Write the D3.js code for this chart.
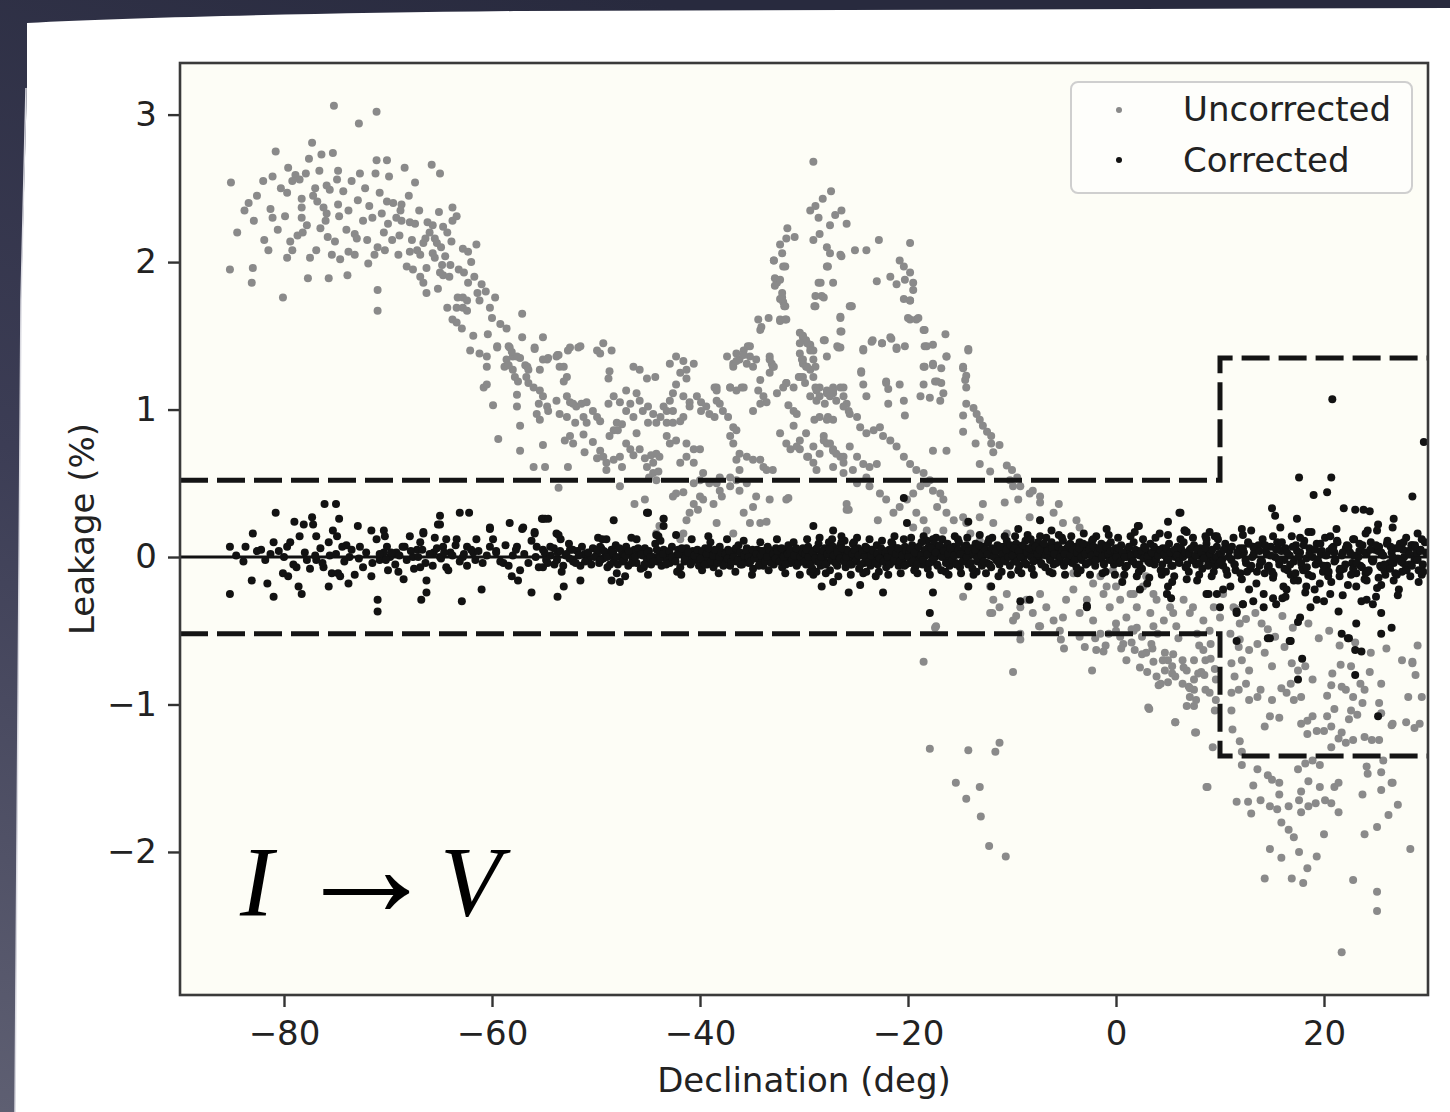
<!DOCTYPE html>
<html>
<head>
<meta charset="utf-8">
<script src="https://cdn.jsdelivr.net/npm/d3@7"></script>
<style>
html, body { margin: 0; padding: 0; background: #2c2d42; overflow: hidden; }
svg { display: block; }
</style>
</head>
<body>
<svg id="chart" width="1450" height="1112"></svg>
<script>
// axis setup
const xTicks = [-80, -60, -40, -20, 0, 20];
const yTicks = [-2, -1, 0, 1, 2, 3];
const xLimits = [-90, 30];
const yLimits = [-2.97, 3.35];
const xLabel = "Declination (deg)";
const yLabel = "Leakage (%)";
const seriesNames = ["Uncorrected", "Corrected"];

// leakage limit steps (dashed)
const upperLimit = [[-90, 0.52], [10, 1.35], [30, 1.35]];
const lowerLimit = [[-90, -0.52], [10, -1.35], [30, -1.35]];

// [declination, leakage %] before correction
const uncorrected = [
[-75.2,3.06],[-71.1,3.02],[-72.8,2.94],[-77.3,2.81],[-80.8,2.75],[-76.4,2.73],[-75.3,2.74],[-71.1,2.69],[-70.1,2.69],[-68.4,2.64],
[-65.8,2.66],[-65,2.6],[-67.4,2.54],[-85.1,2.54],[-81.1,2.58],[-79.6,2.64],[-78.9,2.59],[-78.5,2.56],[-77.9,2.6],[-74.8,2.62],
[-74.9,2.56],[-72.7,2.6],[-71.2,2.6],[-69.9,2.58],[-75.9,2.52],[-75.6,2.49],[-82.6,2.45],[-79.7,2.47],[-77.2,2.45],[-76.8,2.41],
[-76.2,2.37],[-75.9,2.33],[-78.3,2.43],[-78.3,2.37],[-78.3,2.3],[-74.8,2.39],[-74.7,2.31],[-70.8,2.47],[-70.1,2.41],[-69.5,2.4],
[-68.7,2.39],[-68.8,2.35],[-83.8,2.35],[-81.3,2.36],[-81.1,2.3],[-72.4,2.28],[-71.5,2.3],[-70,2.26],[-68.7,2.28],[-67.9,2.27],
[-67.4,2.26],[-66.2,2.27],[-65.7,2.25],[-64.7,2.24],[-64.3,2.2],[-63.8,2.28],[-63.4,2.31],[-63.8,2.37],[-65.1,2.34],[-76.5,2.23],
[-75.8,2.17],[-75.1,2.14],[-78.7,2.18],[-78.2,2.2],[-79.4,2.14],[-79.2,2.08],[-81.5,2.08],[-79.7,2.03],[-77.5,2.03],[-76.9,2.08],
[-75.4,2.05],[-73.8,2.07],[-73.2,2.05],[-73.2,2.19],[-73,2.16],[-71.9,1.99],[-71.3,2.05],[-71,2.1],[-70.3,2.08],[-69.6,2.15],
[-68.9,2.18],[-85.2,1.95],[-83,1.96],[-83.1,1.86],[-80.1,1.76],[-77.7,1.89],[-75.7,1.89],[-73.9,1.91],[-71,1.81],[-71,1.67],
[-67.9,2.07],[-67.2,2.08],[-66.4,2.16],[-66.6,2.13],[-65.5,2.16],[-65.3,2.13],[-65.7,2.06],[-65.5,2.03],[-64.8,1.98],[-64,1.98],
[-68.2,1.97],[-67.6,1.95],[-66.3,1.96],[-66.9,1.9],[-66.6,1.86],[-66.3,1.79],[-65,1.93],[-64.7,1.91],[-64.1,1.9],[-62.8,2.09],
[-62.3,2.07],[-61.5,2.12],[-62.7,1.93],[-62.3,1.86],[-65.2,1.82],[-63.3,1.76],[-62.8,1.76],[-62.4,1.74],[-61.4,1.79],[-61.2,1.74],
[-62.8,1.69],[-62.4,1.67],[-63.4,1.69],[-59.7,1.76],[-60.2,1.69],[-64.3,1.69],[-63.8,1.61],[-63.4,1.59],[-62.9,1.55],[-61.8,1.5],
[-60.4,1.51],[-57.1,1.65],[-57.1,1.49],[-55.1,1.49],[-62.1,1.4],[-61.2,1.38],[-60.5,1.36],[-59.5,1.42],[-58.3,1.42],[-58,1.36],
[-57.3,1.35],[-55.9,1.42],[-54.7,1.34],[-53.7,1.37],[-52.5,1.42],[-51.7,1.42],[-60.5,1.29],[-58.8,1.29],[-58,1.27],[-56.6,1.29],
[-55.4,1.27],[-53.5,1.29],[-84.5,2.2],[-82.9,2.28],[-82,2.55],[-80.3,2.5],[-79.9,2.31],[-79.2,2.55],[-77.6,2.7],[-77,2.5],
[-76.6,2.62],[-76,2.28],[-74.3,2.48],[-73.8,2.35],[-73.5,2.55],[-72.9,2.42],[-72.2,2.5],[-72,2.15],[-71.8,2.38],[-70.6,2.33],
[-70.4,2.2],[-69.2,2.3],[-69,2.05],[-68,2.45],[-67.7,2.15],[-67,2.35],[-66.9,2.05],[-66,2.2],[-64.9,2.1],[-64.5,2.04],
[-63.9,2.14],[-63.2,1.95],[-62,2.0],[-61.7,1.9],[-61,1.85],[-60.6,1.8],[-60,1.62],[-59.2,1.58],[-58.6,1.55],[-80.6,2.22],
[-81.9,2.15],[-83.4,2.4],[-74,2.22],[-74.6,2.02],[-77.8,2.25],
[-59.5,1.43],[-58.4,1.43],[-58.1,1.39],[-57.6,1.36],[-58.6,1.34],[-58.4,1.3],[-57.8,1.22],[-57.5,1.19],[-55.9,1.41],[-56.8,1.3],
[-56.5,1.27],[-56.7,1.22],[-56.5,1.18],[-60.8,1.15],[-60.5,1.17],[-59.9,1.03],[-57.6,1.1],[-57.6,1.02],[-57.3,0.89],[-59.4,0.8],
[-57.3,0.72],[-56,1.15],[-55.4,1.13],[-55.1,1.09],[-55.5,1.04],[-54.7,1.02],[-54.6,0.99],[-55.7,0.97],[-55.4,0.93],[-55.1,0.76],
[-56,0.61],[-54.9,0.61],[-55.1,1.34],[-54.6,1.35],[-53.8,1.36],[-53.6,1.37],[-52.7,1.4],[-51.5,1.43],[-53.1,1.29],[-52.8,1.22],
[-53.1,1.19],[-53.8,1.06],[-52.8,1.09],[-52.5,1.05],[-52.2,1.04],[-51.9,1.02],[-51.4,1.04],[-50.9,1.05],[-53.5,0.97],[-52.8,0.95],
[-52,0.91],[-51.2,0.95],[-50.9,0.91],[-53,0.79],[-52.5,0.82],[-52.2,0.77],[-51.2,0.83],[-51.1,0.71],[-52.7,0.61],[-49.9,1.4],
[-49.3,1.45],[-49.6,1.38],[-48.5,1.4],[-48.7,1.26],[-48.8,1.21],[-50.3,0.99],[-49.9,0.95],[-49.6,0.92],[-48.8,1.04],[-48.3,1.09],
[-47.7,1.05],[-48,0.91],[-48.3,0.86],[-47.9,0.86],[-47.5,0.9],[-48.7,0.82],[-50.3,0.78],[-49.6,0.72],[-49.3,0.68],[-49.9,0.67],
[-49,0.64],[-48.3,0.66],[-49,0.59],[-47.7,0.68],[-47.5,0.61],[-47.1,1.13],[-46.4,1.29],[-45.8,1.27],[-45.1,1.21],[-44.3,1.22],
[-46.1,1.11],[-45.8,1.06],[-45.5,0.99],[-45,1.02],[-44.5,0.97],[-44.2,0.91],[-45,0.91],[-46.7,1.04],[-47.1,0.99],[-46.4,0.95],
[-46.1,0.84],[-47.1,0.77],[-46.7,0.73],[-46.4,0.69],[-45.8,0.73],[-45.3,0.67],[-44.7,0.69],[-44.2,0.7],[-43.9,0.68],[-44.5,0.64],
[-45.1,0.61],[-44.5,0.57],[-44,0.58],[-44.9,0.54],[-44.2,0.52],[-46.3,0.36],[-45.3,0.39],[-45,0.3],[-43.5,0.26],[-44.2,0.16],
[-43.9,0.21],[-42.6,0.41],[-42.3,0.43],[-41.6,0.44],[-42.9,1.31],[-42.3,1.36],[-41.6,1.33],[-41.3,1.27],[-40.6,1.31],[-41.9,1.25],
[-41.3,1.21],[-42.3,1.17],[-42.6,1.11],[-42.9,1.06],[-41.6,1.09],[-41,1.05],[-43.5,1.02],[-43.2,0.99],[-42.6,0.99],[-43.8,0.95],
[-43.2,0.91],[-42.6,0.91],[-41.9,0.92],[-41.6,0.95],[-43.2,0.82],[-42.9,0.77],[-42.3,0.79],[-41.3,0.77],[-40.6,0.73],[-41.3,0.68],
[-41.9,0.64],[-40.6,0.64],[-40,0.73],[-41,1.02],[-40.3,1.09],[-39.9,1.05],[-39.4,1.02],[-39.9,0.99],[-39.1,0.97],[-38.6,0.95],
[-38.1,1.04],[-38.4,1.13],[-38.6,1.15],[-40.6,0.5],[-40,0.52],[-39.7,0.57],[-39.1,0.5],[-38.4,0.5],[-38.1,0.45],[-37.1,0.48],
[-36.5,0.52],[-36.2,0.45],[-35.5,0.5],[-38.1,0.54],[-37.1,0.54],[-40.6,0.36],[-41,0.3],[-41.3,0.25],[-41.6,0.16],[-41.9,0.12],
[-40,0.41],[-39.7,0.39],[-40.2,0.32],[-38.7,0.36],[-37.9,0.41],[-38.4,0.23],[-36.8,0.16],[-35.8,0.3],[-34.9,0.34],[-34.6,0.41],
[-33.3,0.39],[-31.5,0.4],[-34.2,0.23],[-33.6,0.24],[-33,0.59],[-36.2,0.59],[-37.4,1.36],[-36.8,1.31],[-36.5,1.38],[-35.8,1.4],
[-35.4,1.43],[-35.2,1.36],[-36.2,1.34],[-35.5,1.31],[-34.9,1.29],[-34.6,1.34],[-37.1,1.15],[-36.5,1.13],[-36,1.15],[-34.2,1.2],
[-34.4,1.13],[-33.9,1.09],[-33.6,1.05],[-34.2,1.04],[-34.9,0.99],[-38.4,1.06],[-37.8,0.99],[-37.3,0.95],[-36.8,0.88],[-36.5,0.86],
[-37.1,0.82],[-36.8,0.77],[-36.2,0.7],[-36.5,0.66],[-35.5,0.68],[-34.9,0.66],[-34.2,0.66],[-33.9,0.61],[-33.6,0.59],[-34.4,1.61],
[-34.1,1.56],[-34.2,1.54],[-32.3,1.61],[-31.8,1.61],[-32.6,1.86],[-32.8,1.89],[-32.1,1.76],[-32,1.73],[-31.8,1.7],[-32.9,2.01],
[-32,1.97],[-32.1,2.06],[-33.3,1.36],[-33.1,1.31],[-33,1.29],[-33.3,1.25],[-32.6,1.11],[-32,1.15],[-31.7,1.18],[-30.4,1.52],
[-30.1,1.49],[-29.8,1.47],[-29.4,1.44],[-29.1,1.4],[-30.4,1.38],[-30.2,1.34],[-30.1,1.31],[-29.8,1.29],[-29.4,1.27],[-29.1,1.22],
[-30.5,1.22],[-31.5,1.03],[-31,0.99],[-30.7,0.97],[-32.3,0.84],[-31.7,0.77],[-31.3,0.73],[-30.7,0.75],[-30.4,0.79],[-29.8,0.84],
[-29,0.93],[-31,0.89],[-30.4,0.73],[-29.6,0.68],[-29.1,0.64],[-28.8,0.59],[-28.6,1.86],[-28.3,1.77],[-28.9,1.7],[-27.8,1.97],
[-27.2,1.86],[-26.5,1.63],[-26.4,1.53],[-28,1.47],[-27.8,1.36],[-26.8,1.43],[-27.5,2.06],[-26.4,2.04],[-28.5,1.15],[-27.8,1.13],
[-27.2,1.11],[-26.5,1.15],[-26.2,1.09],[-28.8,1.06],[-28,1.04],[-27.7,0.95],[-27.2,0.93],[-25.9,1.04],[-25.7,0.99],[-28.1,0.82],
[-27.8,0.77],[-27.2,0.73],[-26.5,0.68],[-26.2,0.64],[-27.2,0.61],[-25.9,0.36],[-31.7,0.39],[-25.9,0.32],[-53.6,0.47],[-47.7,0.48],
[-35.2,0.23],
[-29.1,2.68],[-27.4,2.48],[-28.2,2.43],[-28.9,2.38],[-29.4,2.35],[-28.6,2.3],[-27,2.32],[-26.4,2.35],[-25.9,2.26],[-27.5,2.25],
[-28.5,2.19],[-29.1,2.15],[-27.8,2.1],[-31.6,2.23],[-32.3,2.12],[-31.7,2.16],[-30.9,2.17],[-32.9,2.01],[-31.8,1.97],[-32.3,1.88],
[-32.8,1.84],[-32.1,1.79],[-32.3,1.75],[-31.9,1.7],[-33.4,1.62],[-32.3,1.6],[-31.7,1.61],[-27.7,1.97],[-26.5,2.05],[-28.4,1.86],
[-28.9,1.77],[-28.1,1.76],[-25.5,1.7],[-26.5,1.62],[-26.7,1.42],[-25.1,2.08],[-24,2.08],[-22.8,2.15],[-19.8,2.13],[-20.8,2.01],
[-20.4,1.97],[-19.8,1.93],[-23,1.87],[-21.7,1.9],[-21.1,1.85],[-20.3,1.88],[-19.5,1.86],[-19.5,1.81],[-20.4,1.75],[-19.8,1.74],
[-19.8,1.61],[-19.2,1.61],[-18.4,1.54],[-16.4,1.51],[-14.2,1.41],[-18.4,1.43],[-17.6,1.44],[-21.6,1.48],[-20.3,1.43],[-21.1,1.42],
[-22.5,1.45],[-23.4,1.47],[-24.3,1.41],[-25.4,1.7],[-30.1,1.5],[-30.4,1.45],[-29.4,1.43],[-28.1,1.47],[-26.5,1.42],[-24.5,1.25],
[-24.3,1.17],[-22.1,1.18],[-20.8,1.17],[-18.4,1.29],[-17.6,1.31],[-17.4,1.19],[-16.8,1.18],[-18.5,1.17],[-14.7,1.29],[-14.4,1.23],
[-14.4,1.15],[-16.3,1.36],[-35.8,1.37],[-35.2,1.43],[-36.8,1.29],[-36.5,1.33],[-38.4,1.15],[-37.1,1.15],[-35.8,1.15],[-33.3,1.34],
[-32.9,1.29],[-30.1,1.22],[-28.9,1.29],[-28.9,1.15],[-27.2,1.15],[-26.2,1.15],[-31.7,1.18],[-31,1.15],
[-29.7,1.45],[-29.4,1.4],[-29.1,1.34],[-30.1,1.34],[-29.7,1.29],[-30.4,1.22],[-29.9,1.18],[-28.8,1.13],[-29.4,1.09],[-28.5,1.09],
[-27.8,1.11],[-27.2,1.13],[-27.5,1.09],[-26.9,1.06],[-26.2,1.02],[-25.6,0.97],[-24.9,0.95],[-24.6,0.88],[-24,0.84],[-23.3,0.86],
[-22.7,0.88],[-22.4,0.82],[-21.7,0.79],[-21.1,0.75],[-20.4,0.68],[-19.8,0.63],[-19.2,0.59],[-18.5,0.57],[-17.9,0.52],[-28.5,0.95],
[-27.8,0.93],[-28.1,0.79],[-27.5,0.77],[-27.2,0.72],[-26.9,0.7],[-28.5,0.7],[-29.1,0.75],[-29.7,0.68],[-26.2,0.68],[-25.6,0.75],
[-24.9,0.68],[-24.3,0.63],[-23.7,0.61],[-23,0.63],[-26.2,0.57],[-25.3,0.59],[-24,0.54],[-24.9,0.5],[-23.7,0.48],[-22.7,0.43],
[-22.1,0.39],[-25.7,0.32],[-22.9,0.25],[-21.4,0.3],[-20.8,0.34],[-20.1,0.39],[-19.5,0.43],[-18.8,0.48],[-18.2,0.5],[-17.6,0.45],
[-16.9,0.43],[-16.6,0.39],[-17.2,0.34],[-16.3,0.3],[-19.2,0.3],[-18.5,0.25],[-19.5,0.2],[-18.2,0.18],[-16.6,0.18],[-15.6,0.25],
[-14.7,0.27],[-14.4,0.23],[-13.1,0.27],[-14,0.16],[-13.1,0.11],[-26.5,1.53],[-25.6,1.7],[-24.3,1.4],[-24.5,1.26],[-24,1.09],
[-23.5,1.46],[-22.5,1.45],[-21.7,1.49],[-21.1,1.41],[-22.1,1.19],[-21.9,1.14],[-21.9,1.04],[-20.4,1.06],[-20.3,0.96],[-20,1.62],
[-19,1.62],[-19.8,1.74],[-18.5,1.54],[-18.2,1.43],[-18.5,1.29],[-17.6,1.3],[-16.8,1.28],[-17.2,1.19],[-18.8,1.09],[-17.9,1.08],
[-16.9,1.06],[-16.6,1.11],[-16.3,1.36],[-17.6,0.72],[-16.3,0.72],[-14.2,1.4],[-14.7,1.28],[-14.5,1.2],[-14.4,1.04],[-14.7,0.96],
[-13.7,1.01],[-13.4,0.97],[-13.1,0.93],[-12.8,0.89],[-14.7,0.85],[-13.5,0.77],[-12.4,0.85],[-12,0.82],[-11.2,0.76],[-12,0.77],
[-11.8,0.71],[-13.1,0.63],[-12.1,0.58],[-10.5,0.62],[-10,0.59],[-9.5,0.54],[-10.2,0.52],[-9.9,0.48],[-9.2,0.48],[-8,0.45],
[-7.3,0.41],[-10.7,0.37],[-9.4,0.39],[-8.3,0.43],[-7.3,0.37],[-8.3,0.27],[-7.3,0.25],[-6,0.3],[-5.5,0.36],[-5.1,0.23],
[-3.8,0.25],[-3.5,0.2],[-12.8,0.36],[-11.8,0.23],[-10.5,0.16],[-29,1.7],
[-14.7,-0.27],[-12.1,-0.2],[-11.8,-0.29],[-12.1,-0.38],[-11.2,-0.34],[-10.5,-0.25],[-9.9,-0.43],[-9.2,-0.34],[-8.6,-0.29],[-8,-0.38],
[-7.3,-0.25],[-6.7,-0.34],[-6,-0.43],[-5.1,-0.41],[-4.8,-0.29],[-4.1,-0.22],[-3.5,-0.38],[-2.8,-0.29],[-2.2,-0.43],[-1.5,-0.13],
[-1.2,-0.25],[-0.6,-0.34],[0,-0.2],[0.4,-0.29],[1,-0.41],[1.7,-0.25],[2,-0.34],[2.6,-0.2],[3.3,-0.38],[3.9,-0.29],
[4.6,-0.43],[5.2,-0.34],[5.8,-0.47],[6.5,-0.29],[7.1,-0.38],[7.8,-0.52],[8.4,-0.43],[9,-0.5],[10,-0.41],[11,-0.52],
[11.9,-0.45],[-0.3,-0.09],[0.7,-0.13],[2.9,-0.13],[-4.1,-0.11],[-2.2,-0.18],[-0.9,-0.2],[1.4,-0.25],[3.6,-0.25],[4.9,-0.25],
[5.5,-0.38],[7.4,-0.34],[3.6,-0.47],[1.7,-0.5],[0,-0.5],[-1.5,-0.52],[-3.5,-0.54],[-5.4,-0.5],[-7.3,-0.47],[-9.2,-0.52],
[9.4,-0.34],[10.3,-0.25],[11.3,-0.34],[11.9,-0.56],[-17.4,-0.48],
[-18.5,-0.71],[-17.3,-0.47],[-9.9,-0.78],[-2.3,-0.77],[-5,-0.62],[-3,-0.61],[-1.9,-0.63],[-1.2,-0.64],[-9.2,-0.56],[-5.3,-0.56],
[-7.4,-0.47],[-11.9,-0.38],[-9.6,-0.4],[-17.9,-1.3],[-14.2,-1.31],[-11.6,-1.32],[-11.2,-1.26],[-15.4,-1.53],[-13.1,-1.56],[-14.4,-1.64],
[-13,-1.76],[-12.2,-1.96],[-10.6,-2.03],[2.3,-0.75],[3.2,-1.03],[5.7,-1.12],[4.1,-0.87],[5.4,-0.74],[5.7,-0.81],[4.7,-0.65],
[3.6,-0.71],[6.4,-0.7],[6.8,-0.77],[7.5,-0.83],[7.1,-0.89],[7.7,-0.97],[7.5,-1.01],[8.6,-0.9],[7.7,-1.19],[9.3,-1.29],
[8.8,-1.56],[9.5,-1.04],[9.6,-0.97],[8.2,-0.78],[9.1,-0.69],[9.6,-0.83],[11.1,-1.04],[11.2,-1.17],[11.9,-1.25],[12.1,-1.32],
[12.1,-1.41],[11.6,-1.66],[12.7,-1.66],[13,-1.74],[13.2,-1.55],[13.6,-1.44],[13.9,-1.65],[14.3,-1.15],[14.8,-1.08],[15.7,-1.09],
[15,-0.97],[13.6,-0.95],[12.8,-0.97],[11.8,-0.9],[11.1,-0.92],[12.5,-0.86],[13.9,-0.9],[11.4,-0.81],[12.1,-0.7],[12.8,-0.63],
[11.8,-0.61],[13.6,-0.59],[14.3,-0.65],[15,-0.74],[14.6,-0.49],[15.3,-0.54],[16.2,-0.61],[16.9,-0.72],[17.5,-0.77],[18.2,-0.74],
[18.9,-0.83],[16.8,-0.86],[16.4,-0.92],[17.1,-0.97],[17.8,-0.95],[15.9,-0.89],[14.6,-1.48],[15,-1.51],[15.7,-1.53],[15.7,-1.61],
[14.8,-1.69],[15.5,-1.71],[15.9,-1.8],[16.6,-1.85],[17.1,-1.9],[16.6,-1.69],[17.6,-1.65],[17.8,-1.73],[18.5,-1.69],[19.2,-1.67],
[20.1,-1.65],[20.7,-1.67],[21.4,-1.73],[21,-1.56],[21.4,-1.53],[19.6,-1.56],[18.5,-1.52],[17.8,-1.59],[17.5,-1.44],[18.2,-1.4],
[18.9,-1.38],[19.6,-1.41],[17.6,-2.0],[18.4,-2.11],[16.9,-2.18],[18,-2.21],[15.9,-2.04],[14.8,-1.98],[14.3,-2.18],[19.3,-2.03],
[20,-1.88],[21.7,-2.68],[22.8,-2.19],[25.1,-2.27],[25.1,-2.4],[23.9,-1.88],[25.1,-1.83],[26.2,-1.75],[27.1,-1.68],[23.7,-1.61],
[26.5,-1.53],[25.5,-1.58],[28.3,-1.98],[28.5,-0.72],[28.1,-0.95],[29.4,-0.95],[27.9,-1.12],[28.7,-1.16],[26.5,-1.14],[25.3,-1.24],
[24.6,-1.24],[23.9,-1.22],[22.8,-1.24],[22.1,-1.26],[21.4,-1.23],[20.7,-1.29],[20,-1.18],[20.7,-1.15],[21.7,-1.19],[22.4,-1.1],
[22.6,-1.04],[23.2,-1.07],[23.7,-0.99],[22.8,-0.95],[22.1,-0.9],[21.7,-0.88],[20.7,-0.87],[20.3,-0.94],[21,-1.03],[20.3,-1.08],
[18.9,-1.08],[19.3,-1.18],[18.4,-1.11],[17.8,-1.13],[18.4,-1.2],[24.4,-0.78],[25.5,-0.86],[25.3,-0.99],[25.5,-1.06],[25.7,-1.38],
[25.5,-1.46],[24.2,-1.47],[24.1,-1.42],[21.6,-0.73],[20.8,-0.79],[22.6,-0.74],[23.5,-0.86],[23.9,-0.9],[5,-0.7],[4.7,-0.77],
[5.4,-0.79],[6.4,-0.86],[7.1,-0.95],[6.8,-1.01],[7.5,-0.9],[7.9,-0.79],[8.6,-0.7],[8.4,-0.63],[9.1,-0.59],[3.9,-0.81],
[4.3,-0.86],[3.4,-0.59],[2.5,-0.54],[1.5,-0.49],[0.4,-0.54],[-0.7,-0.52],[0.7,-0.59],[1.8,-0.63],[2.9,-0.65],[11.1,-0.72],
[12.8,-0.77],[29.5,-0.05],[28.5,-0.71],[29.2,-1.13],[26.6,-1.13],[26.6,-1.53],[8.7,-1.56],[3.1,-1.02],[5.7,-1.12],[7.6,-1.19],
[11.5,-0.35],[12.5,-0.42],[13.4,-0.38],[14,-0.45],[16,-0.4],[17,-0.48],[18.5,-0.45],[19.5,-0.55],[20.5,-0.5],[21.5,-0.6],
[23,-0.58],[24.5,-0.65],[26,-0.62],[27.5,-0.7],[29,-0.6],[28.8,-0.8],[-2,-0.55],[-1,-0.6],[0.5,-0.62],[1.5,-0.58],
[2.5,-0.66],[3.5,-0.62],[4.5,-0.7],[5.5,-0.66],[6.5,-0.75],[7.5,-0.7],[8.5,-0.8],[9.5,-0.76],[1,-0.7],[3,-0.78],
[5,-0.85],[7,-0.88],[9,-0.92],[0,-0.45],[2,-0.48],[4,-0.52],[6,-0.55],[8,-0.6]
];

// [declination, leakage %] after correction: scatter and outliers
const corrected = [
[-85.2,0.07],[-85.2,-0.25],[-83.7,0.07],[-83.1,-0.16],[-83,0.16],[-82.6,0.04],[-81.6,-0.18],[-81,-0.27],[-81,0.1],[-80.8,0.3],
[-81.3,0.02],[-80.1,-0.11],[-79.6,-0.13],[-79.7,0.07],[-79.4,0.1],[-79,0.24],[-78.6,-0.2],[-78.3,-0.25],[-78.8,-0.07],[-78.5,0.14],
[-78.1,0.22],[-77.3,0.27],[-77.2,0.22],[-76.9,0.14],[-77.8,-0.02],[-77.5,-0.08],[-76.5,0.06],[-76.9,-0.02],[-76.1,0.36],[-75,0.36],
[-74.7,0.26],[-75.3,0.18],[-75.7,0.1],[-75.6,0.01],[-76.2,-0.07],[-74.9,0.14],[-75.4,-0.11],[-74.8,-0.11],[-75.7,-0.2],[-74.6,-0.13],
[-74.4,0.07],[-74,0.08],[-73.8,-0.18],[-72.9,0.21],[-73.2,-0.12],[-72.7,0.07],[-72.4,-0.07],[-73.7,0],[-71.6,0.18],[-71.6,-0.13],
[-71,-0.29],[-71,-0.37],[-71.1,0.12],[-70.4,0.18],[-70.4,0.03],[-70.3,0.14],[-70,-0.09],[-70.8,-0.02],[-70.1,0.07],[-69.8,0],
[-69.2,0.03],[-68.5,-0.15],[-68.4,0.07],[-67.9,0.14],[-67.6,0],[-67.2,0.05],[-66.6,0.16],[-66.9,-0.07],[-66.8,-0.29],[-66.3,-0.16],
[-66.3,-0.24],[-65.6,0.03],[-65.5,0.13],[-65.2,0.22],[-65,0.28],[-65,0],[-64.7,0.07],[-64.4,-0.07],[-64,0.03],[-63.4,0.12],
[-63.1,0.3],[-62.2,0.3],[-62.9,-0.3],[-62.8,0],[-62.4,0.07],[-61.8,0.03],[-61.5,0.12],[-61,-0.22],[-60.2,0.19],[-59.9,0.12],
[-59.6,0.03],[-58.9,-0.04],[-58.3,0.23],[-58.1,-0.13],[-57.6,0.07],[-57.5,-0.16],[-57.1,0.19],[-56.2,-0.24],[-55.9,0.16],[-55.7,0.07],
[-55.2,0.26],[-54.9,0.26],[-55.1,-0.07],[-54.7,0],[-53.8,0.16],[-53.7,-0.27],[-53.1,-0.2],[-53.4,0.12],[-52.5,0.05],[-52.2,-0.02],
[-51.5,-0.16],[-49.8,0.13],[-49.6,0.07],[-49,0.12],[-48.3,0.25],[-48.5,-0.16],[-47.7,-0.17],[-46.1,0.12],[-45.1,0.3],[-46.4,-0.01],
[-45.4,-0.07],
[-84.6,0.01],[-83.9,-0.03],[-82.2,0.05],[-81.8,-0.02],[-80.5,0.04],[-80,0],[-79.1,-0.05],[-78,0.03],[-77,0.01],[-76.3,-0.04],
[-75,0.02],[-74.2,-0.03],[-73.5,0.05],[-72.8,-0.01],[-72.1,0.03],[-71.5,-0.04],[-70.8,0.02],[-70.2,-0.02],
[-69.7,0.03],[-69.3,-0.05],[-68.9,0.01],[-68.6,0.07],[-68.2,-0.02],[-67.8,0.04],[-67.5,-0.08],[-67.1,0],[-66.7,0.05],[-66.4,-0.04],
[-66,0.02],[-65.7,-0.06],[-65.3,0.06],[-64.9,-0.01],[-64.6,0.03],[-64.2,-0.09],[-63.8,0.01],[-63.5,0.08],[-63.1,-0.03],[-62.7,0.02],
[-62.4,-0.06],[-62,0.05],[-61.6,-0.02],[-61.3,0.04],[-60.9,-0.04],[-60.5,0.01],[-60.2,0.07],[-69,-0.1],[-66.9,0.1],[-64.4,0.12],
[-65,0.22],[-66.6,0.17],[-60.2,0.2],[-57,0.2],[-55.1,0.26],[-54.6,0.26],
[-55.9,0.17],[-53.6,0.15],[-45,0.3],[-43.5,0.26],[-43.5,0.21],[-44.2,0.15],[-42.3,0.15],[-39.2,0.14],[-29.1,0.21],
[-27.2,0.18],[-26.4,0.14],
[-59.6,0.04],[-59.2,-0.03],[-58.7,0.08],[-58.4,-0.06],[-58,0.01],[-57.7,0.05],[-57.3,-0.09],[-56.9,0.02],[-56.5,-0.04],[-56.2,0.11],
[-55.8,0],[-55.5,-0.07],[-55.1,0.05],[-54.8,-0.02],[-54.4,0.07],[-54,-0.05],[-53.7,0.03],[-53.3,-0.1],[-52.9,0.01],[-52.6,0.09],
[-52.2,-0.03],[-51.8,0.04],[-51.5,-0.06],[-51.1,0.02],[-50.7,-0.01],[-50.3,0.06],
[-49.9,0.02],[-49.7,-0.04],[-49.5,0.06],[-49.3,-0.01],[-49.1,0.03],[-48.9,-0.07],[-48.7,0.01],[-48.5,0.05],[-48.3,-0.03],[-48.1,0.08],
[-47.9,-0.05],[-47.7,0],[-47.5,0.04],[-47.3,-0.02],[-47.1,0.07],[-46.9,-0.06],[-46.7,0.02],[-46.5,-0.01],[-46.3,0.05],[-46.1,-0.04],
[-45.9,0.03],[-45.7,-0.08],[-45.5,0.01],[-45.3,0.06],[-45.1,-0.02],[-44.9,0.04],[-44.7,-0.05],[-44.5,0],[-44.3,0.09],[-44.1,-0.03],
[-43.9,0.02],[-43.7,-0.06],[-43.5,0.05],[-43.3,-0.01],[-43.1,0.03],[-42.9,-0.04],[-42.7,0.07],[-42.5,-0.02],[-42.3,0.01],[-42.1,0.05],
[-41.9,-0.07],[-41.7,0.02],[-41.5,-0.03],[-41.3,0.06],[-41.1,0],[-40.9,-0.05],[-40.7,0.04],[-40.5,-0.02],[-40.3,0.03],[-40.1,-0.06],
[-49.4,0.12],[-48,-0.11],[-46.6,0.13],[-45,-0.12],[-43.8,0.11],[-42.2,-0.1],[-40.8,0.12],[-47.2,-0.13],[-44,0.14],[-41.8,-0.12],
[-39.9,0.03],[-39.7,-0.02],[-39.5,0.06],[-39.3,-0.05],[-39.1,0.01],[-38.9,0.04],[-38.7,-0.07],[-38.5,0.02],[-38.3,-0.01],[-38.1,0.07],
[-37.9,-0.04],[-37.7,0.03],[-37.5,-0.02],[-37.3,0.05],[-37.1,-0.06],[-36.9,0.01],[-36.7,0.04],[-36.5,-0.03],[-36.3,0.08],[-36.1,-0.05],
[-35.9,0.02],[-35.7,-0.01],[-35.5,0.06],[-35.3,-0.04],[-35.1,0.03],[-34.9,-0.08],[-34.7,0],[-34.5,0.05],[-34.3,-0.02],[-34.1,0.04],
[-33.9,-0.06],[-33.7,0.02],[-33.5,0.07],[-33.3,-0.03],[-33.1,0.01],[-32.9,-0.05],[-32.7,0.06],[-32.5,-0.01],[-32.3,0.03],[-32.1,-0.07],
[-31.9,0.04],[-31.7,-0.02],[-31.5,0.08],[-31.3,-0.04],[-31.1,0.01],[-30.9,0.05],[-30.7,-0.06],[-30.5,0.02],[-30.3,-0.03],[-30.1,0.06],
[-39.8,-0.09],[-39,0.1],[-38.2,-0.11],[-37.4,0.12],[-36.6,-0.1],[-35.8,0.11],[-35,-0.12],[-34.2,0.1],[-33.4,-0.09],[-32.6,0.12],
[-31.8,-0.11],[-31,0.1],[-30.4,-0.12],
[-29.7,0.12],[-29.1,-0.12],[-28.5,0.13],[-27.9,-0.11],[-27.3,0.12],[-26.7,-0.13],[-26.1,0.11],[-25.5,-0.12],[-24.9,0.13],[-24.3,-0.11],
[-23.7,0.12],[-23.1,-0.13],[-22.5,0.11],[-21.9,-0.12],[-21.3,0.14],[-20.7,-0.11],[-28.8,-0.1],[-26.4,0.1],[-24,-0.1],[-21.6,0.1],
[-20.4,0.12],[-22.8,-0.1],[-25.2,0.1],[-27.6,0.1],[-29.4,-0.1],
[-19.7,0.13],[-19.1,-0.11],[-18.5,0.14],[-17.9,-0.12],[-17.3,0.13],[-16.7,0.12],[-16.1,-0.12],[-15.5,0.14],[-14.9,-0.11],[-14.3,0.13],
[-13.7,-0.12],[-13.1,0.15],[-12.5,-0.11],[-11.9,0.13],[-11.3,-0.13],[-10.7,0.14],[-10.1,-0.12],[-19.4,-0.09],[-18.2,0.11],[-16.4,-0.1],
[-15.2,0.12],[-13.4,-0.1],[-12.2,0.12],[-11,-0.1],
[-9.7,0.14],[-9.1,-0.11],[-8.5,0.15],[-7.9,-0.12],[-7.3,0.14],[-6.7,0.13],[-6.1,-0.11],[-5.5,0.15],[-4.9,-0.12],[-4.3,0.14],
[-3.7,-0.11],[-3.1,0.16],[-2.5,-0.12],[-1.9,0.14],[-1.3,-0.11],[-0.7,0.15],[-0.1,-0.12],[-9.4,-0.09],[-8.2,0.12],[-6.4,-0.1],
[-5.2,0.13],[-3.4,-0.09],[-2.2,0.12],[-1,-0.1],
[0.2,0.13],[0.8,-0.12],[1.4,0.14],[2,-0.13],[2.6,0.12],[3.2,-0.14],[3.8,0.13],[4.4,-0.12],[5,0.15],[5.6,-0.13],
[6.2,0.12],[6.8,-0.15],[7.4,0.13],[8,-0.12],[8.6,0.14],[9.2,-0.13],[9.8,0.12],[0.6,-0.17],[1.8,0.17],[3,-0.18],
[4.2,0.16],[5.4,-0.17],[6.6,0.18],[7.8,-0.16],[9,0.17],[2.2,-0.1],[4.8,-0.1],[7,-0.1],[9.4,-0.1],
[10.7,-0.12],[11.3,0.13],[12.1,-0.15],[12.7,0.1],[13.5,-0.18],[14.1,0.12],[14.3,-0.11],[15.1,-0.14],[15.5,0.1],[16.1,-0.2],
[16.9,0.14],[17.5,-0.16],[18.1,0.11],[18.5,-0.12],[19.1,-0.22],[19.9,-0.1],[20.1,0.13],[20.7,-0.17],[21.3,0.1],[21.5,-0.13],
[22.3,-0.19],[22.9,0.12],[23.1,-0.11],[23.9,-0.15],[24.5,0.1],[25.1,-0.21],[25.9,-0.12],[26.1,0.11],[26.7,-0.16],[27.5,-0.1],
[28.3,-0.13],[29.7,0.1],[11,-0.2],[12.8,-0.22],[14.2,-0.25],[16,-0.28],[18.2,-0.24],[20,-0.3],[21.8,-0.26],
[23.6,-0.3],[25,-0.27],[27.2,-0.22],[13,0.18],[15.8,0.2],[18.8,0.17],[21.2,0.19],[24.2,0.18],[26.6,0.2],[29,0.16],
[-20.4,0.4],[-20.1,0.23],[-17.6,0.12],[-14.2,0.24],[-9.4,0.19],[-7.3,0.25],[-6.2,0.18],
[-0.9,0.19],[2.2,0.21],[5,0.24],[6.2,0.3],[6.6,0.18],[8.7,0.12],[9.5,0.14],[12.1,0.19],[-25.7,-0.24],[-22.4,-0.24],
[-17.6,-0.24],[-17.9,-0.38],[-28.3,-0.2],[-27.2,-0.17],[-24.6,-0.19],[-14.2,-0.2],[-12,-0.2],[-9.2,-0.3],[-8.3,-0.29],[-2.8,-0.33],
[4.9,-0.25],[5.3,-0.28],[8.7,-0.25],[10.3,-0.22],[11.6,-0.38],[12.2,-0.32],[11.6,-0.57],
[20.8,1.07],[29.6,0.78],[17.6,0.54],[20.7,0.54],[19,0.42],[20.3,0.44],[28.5,0.41],[15,0.33],[15.3,0.28],[17.4,0.26],
[21.9,0.33],[23,0.32],[23.8,0.32],[24.4,0.31],[26.7,0.26],[25.2,0.22],[6.1,0.3],[2.1,0.21],[12.2,0.15],[6.8,0.17],
[9.7,0.14],[15.1,0.14],[18.5,0.17],[17.7,0.13],[20.6,0.14],[22.8,0.12],[24,0.16],[25.1,0.18],[27.9,0.13],[29.4,0.12],
[28.4,0.08],[25.5,0.03],[26.7,-0.04],[27.6,-0.04],[29.1,-0.17],[25.4,-0.06],[25.5,-0.19],[27.1,-0.26],[23.1,-0.2],[24.1,-0.16],
[22.8,-0.11],[21.5,-0.09],[24.1,-0.29],[24.7,-0.32],[25.5,-0.38],[26.5,-0.48],[25.5,-0.52],[23.1,-0.45],[21.7,-0.52],[22.3,-0.55],
[23,-0.63],[23.6,-0.64],[23,-0.8],[25.2,-1.08],[21.4,-0.37],[20.6,-0.25],[19.3,-0.29],[18.7,-0.34],[17.7,-0.41],[17.5,-0.44],
[16.7,-0.57],[17.9,-0.69],[17.5,-0.83],[14.6,-0.55],[15.4,-0.32],[15.1,-0.28],[14.2,-0.34],[13.2,-0.3],[12.2,-0.32],
[11.6,-0.37],[16.4,-0.22],[16.3,-0.27],[18.3,-0.2],[19.6,-0.18],[17.1,-0.16],[9.7,-0.25],[10,-0.34],[8.9,-0.25],[5,-0.2],
[2.3,-0.22],[16.8,-0.57],[22.4,-0.55],[14.8,-0.55],[-2.8,-0.34]
];

// [declination, leakage %] after correction: the dense core around zero
const correctedCore = [
[-30.8,0],[-32.2,0.01],[-33,-0.02],[-34.8,0.03],[-36,0],[-37,-0.01],[-38.8,0.02],[-39.4,0],
[-54.95,0.03],[-54.65,-0.04],[-54.35,0.01],[-54.05,0.06],[-53.75,-0.02],[-53.45,0.04],[-53.15,-0.06],[-52.85,0.02],[-52.55,-0.01],[-52.25,0.05],
[-51.95,-0.04],[-51.65,0.01],[-51.35,0.07],[-51.05,-0.03],[-50.75,0.03],[-50.45,-0.05],[-50.15,0],[-49.85,0.05],[-49.55,-0.02],[-49.25,0.04],
[-48.95,0],[-48.65,-0.05],[-48.35,0.03],[-48.05,0],[-47.75,0.06],[-47.45,-0.03],[-47.15,0.01],[-46.85,0.04],[-46.55,-0.04],[-46.25,0],
[-45.95,0.06],[-45.65,0.02],[-45.35,-0.05],[-45.05,0.03],[-44.75,0],[-44.45,-0.03],[-44.15,0.05],[-43.85,-0.01],[-43.55,0.02],[-43.25,-0.05],
[-42.95,0.04],[-42.65,0],[-42.35,-0.03],[-42.05,0.02],[-41.75,0.06],[-41.45,-0.01],[-41.15,0.03],[-40.85,-0.04],[-40.55,0.01],[-40.25,0.05],
[-39.95,-0.01],[-39.75,0.04],[-39.55,-0.05],[-39.35,0.02],[-39.15,0.06],[-38.95,-0.03],[-38.75,0.01],[-38.55,0.05],[-38.35,-0.04],[-38.15,0],
[-37.95,0.03],[-37.75,-0.06],[-37.55,0.02],[-37.35,-0.01],[-37.15,0.04],[-36.95,-0.03],[-36.75,0],[-36.55,0.06],[-36.35,-0.02],[-36.15,0.03],
[-35.95,-0.05],[-35.75,0.01],[-35.55,0.04],[-35.35,0],[-35.15,-0.03],[-34.95,0.05],[-34.75,-0.01],[-34.55,0.02],[-34.35,-0.06],[-34.15,0.01],
[-33.95,0.04],[-33.75,-0.03],[-33.55,0],[-33.35,0.05],[-33.15,-0.04],[-32.95,0.02],[-32.75,-0.01],[-32.55,0.04],[-32.35,-0.03],[-32.15,0.06],
[-31.95,0],[-31.75,-0.05],[-31.55,0.02],[-31.35,0.04],[-31.15,-0.02],[-30.95,0.01],[-30.75,0.06],[-30.55,-0.04],[-30.35,0],[-30.15,0.03],
[-29.9,0.02],[-29.8,-0.05],[-29.6,0.07],[-29.5,-0.01],[-29.3,0.04],[-29.2,-0.08],[-29,0.01],[-28.9,0.05],[-28.7,-0.03],[-28.6,0.09],
[-28.4,-0.06],[-28.3,0.02],[-28.1,-0.02],[-28,0.06],[-27.8,-0.04],[-27.7,0.03],[-27.5,-0.09],[-27.4,0],[-27.2,0.07],[-27.1,-0.03],
[-26.9,0.04],[-26.8,-0.06],[-26.6,0.01],[-26.5,0.08],[-26.3,-0.02],[-26.2,0.03],[-26,-0.07],[-25.9,0.05],[-25.7,-0.01],[-25.6,0.02],
[-25.4,-0.05],[-25.3,0.09],[-25.1,0],[-25,-0.03],[-24.8,0.06],[-24.7,-0.08],[-24.5,0.02],[-24.4,0.04],[-24.2,-0.04],[-24.1,0.07],
[-23.9,-0.01],[-23.8,0.03],[-23.6,-0.06],[-23.5,0.05],[-23.3,0],[-23.2,-0.03],[-23,0.08],[-22.9,-0.05],[-22.7,0.02],[-22.6,0.06],
[-22.4,-0.02],[-22.3,0.04],[-22.1,-0.07],[-22,0.01],[-21.8,0.05],[-21.7,-0.04],[-21.5,0.09],[-21.4,0],[-21.2,-0.03],[-21.1,0.06],
[-20.9,-0.06],[-20.8,0.02],[-20.6,0.04],[-20.5,-0.01],[-20.3,0.07],[-20.2,-0.05],[-20,0.03],
[-29.95,-0.03],[-29.75,0.05],[-29.55,0],[-29.35,-0.05],[-29.15,0.03],[-28.95,-0.01],[-28.75,0.06],[-28.55,-0.03],[-28.35,0],[-28.15,0.04],
[-27.95,-0.05],[-27.75,0.02],[-27.55,0.05],[-27.35,-0.02],[-27.15,0.01],[-26.95,-0.04],[-26.75,0.03],[-26.55,-0.01],[-26.35,0.06],[-26.15,-0.03],
[-25.95,0],[-25.75,0.04],[-25.55,-0.05],[-25.35,0.02],[-25.15,0.05],[-24.95,-0.02],[-24.75,0.01],[-24.55,-0.05],[-24.35,0.03],[-24.15,0],
[-23.95,0.06],[-23.75,-0.03],[-23.55,0.01],[-23.35,0.04],[-23.15,-0.04],[-22.95,0.02],[-22.75,-0.01],[-22.55,0.05],[-22.35,-0.03],[-22.15,0.03],
[-21.95,0],[-21.75,-0.05],[-21.55,0.04],[-21.35,-0.02],[-21.15,0.02],[-20.95,0.06],[-20.75,-0.03],[-20.55,0.01],[-20.35,-0.06],[-20.15,0.04],
[-19.9,0.03],[-19.8,-0.04],[-19.6,0.08],[-19.5,0],[-19.3,-0.07],[-19.2,0.05],[-19,0.02],[-18.9,-0.02],[-18.7,0.1],[-18.6,-0.05],
[-18.4,0.04],[-18.3,0.01],[-18.1,-0.08],[-18,0.07],[-17.8,0.02],[-17.7,-0.03],[-17.5,0.09],[-17.4,0],[-17.2,-0.05],[-17.1,0.05],
[-16.9,0.03],[-16.8,-0.09],[-16.6,0.06],[-16.5,0.01],[-16.3,-0.02],[-16.2,0.09],[-16,-0.06],[-15.9,0.04],[-15.7,0],[-15.6,0.07],
[-15.4,-0.04],[-15.3,0.03],[-15.1,0.1],[-15,-0.07],[-14.8,0.02],[-14.7,0.05],[-14.5,-0.02],[-14.4,0.08],[-14.2,-0.05],[-14.1,0.01],
[-13.9,0.06],[-13.8,-0.08],[-13.6,0.03],[-13.5,0.09],[-13.3,-0.03],[-13.2,0.04],[-13,0],[-12.9,-0.06],[-12.7,0.07],[-12.6,0.02],
[-12.4,-0.04],[-12.3,0.1],[-12.1,0.01],[-12,-0.07],[-11.8,0.05],[-11.7,0.03],[-11.5,-0.02],[-11.4,0.08],[-11.2,-0.05],[-11.1,0.04],
[-10.9,0],[-10.8,0.07],[-10.6,-0.03],[-10.5,0.11],[-10.3,0.02],[-10.2,-0.06],[-10,0.05],[-17.6,0],[-16,0.02],[-14.6,0],[-12.8,0.03],[-11.6,0],
[-19.95,0],[-19.75,0.06],[-19.55,-0.03],[-19.35,0.03],[-19.15,-0.05],[-18.95,0.07],[-18.75,0.01],[-18.55,-0.02],[-18.35,0.05],[-18.15,0.02],
[-17.95,-0.04],[-17.75,0.06],[-17.55,-0.01],[-17.35,0.03],[-17.15,-0.06],[-16.95,0.08],[-16.75,0],[-16.55,0.04],[-16.35,-0.04],[-16.15,0.02],
[-15.95,0.06],[-15.75,-0.02],[-15.55,0.01],[-15.35,-0.05],[-15.15,0.05],[-14.95,0.02],[-14.75,-0.03],[-14.55,0.07],[-14.35,0],[-14.15,0.04],
[-13.95,-0.04],[-13.75,0.02],[-13.55,0.05],[-13.35,-0.01],[-13.15,0.08],[-12.95,0.01],[-12.75,-0.03],[-12.55,0.05],[-12.35,0.02],[-12.15,-0.05],
[-11.95,0.06],[-11.75,0],[-11.55,0.04],[-11.35,-0.03],[-11.15,0.07],[-10.95,0.02],[-10.75,-0.02],[-10.55,0.05],[-10.35,0],[-10.15,0.08],
[-9.9,0.04],[-9.8,-0.03],[-9.6,0.09],[-9.5,0.01],[-9.3,-0.06],[-9.2,0.06],[-9,0.03],[-8.9,-0.01],[-8.7,0.11],[-8.6,-0.05],
[-8.4,0.05],[-8.3,0.02],[-8.1,-0.08],[-8,0.08],[-7.8,0.03],[-7.7,-0.02],[-7.5,0.1],[-7.4,0],[-7.2,-0.04],[-7.1,0.06],
[-6.9,0.04],[-6.8,-0.07],[-6.6,0.07],[-6.5,0.02],[-6.3,-0.01],[-6.2,0.1],[-6,-0.05],[-5.9,0.05],[-5.7,0.01],[-5.6,0.08],
[-5.4,-0.03],[-5.3,0.04],[-5.1,0.11],[-5,-0.06],[-4.8,0.03],[-4.7,0.06],[-4.5,-0.01],[-4.4,0.09],[-4.2,-0.04],[-4.1,0.02],
[-3.9,0.07],[-3.8,-0.07],[-3.6,0.04],[-3.5,0.1],[-3.3,-0.02],[-3.2,0.05],[-3,0.01],[-2.9,-0.05],[-2.7,0.08],[-2.6,0.03],
[-2.4,-0.03],[-2.3,0.11],[-2.1,0.02],[-2,-0.06],[-1.8,0.06],[-1.7,0.04],[-1.5,-0.01],[-1.4,0.09],[-1.2,-0.04],[-1.1,0.05],
[-0.9,0.01],[-0.8,0.08],[-0.6,-0.02],[-0.5,0.1],[-0.3,0.03],[-0.2,-0.05],[0,0.06],[-7.6,0.01],[-6,0.03],[-4.6,0.01],[-2.8,0.04],[-1.6,0.01],[-8.8,0.03],[-4,0.02],
[-9.95,0.01],[-9.75,0.06],[-9.55,-0.03],[-9.35,0.04],[-9.15,0],[-8.95,0.08],[-8.75,-0.04],[-8.55,0.03],[-8.35,0.06],[-8.15,0],
[-7.95,-0.03],[-7.75,0.07],[-7.55,0.02],[-7.35,0.05],[-7.15,-0.05],[-6.95,0.09],[-6.75,0.01],[-6.55,0.04],[-6.35,-0.02],[-6.15,0.06],
[-5.95,0.02],[-5.75,-0.04],[-5.55,0.07],[-5.35,0],[-5.15,0.05],[-4.95,0.02],[-4.75,-0.03],[-4.55,0.08],[-4.35,0.01],[-4.15,0.05],
[-3.95,-0.02],[-3.75,0.03],[-3.55,0.06],[-3.35,0],[-3.15,0.09],[-2.95,0.02],[-2.75,-0.04],[-2.55,0.05],[-2.35,0.01],[-2.15,0.07],
[-1.95,-0.02],[-1.75,0.03],[-1.55,0.06],[-1.35,0],[-1.15,-0.05],[-0.95,0.07],[-0.75,0.02],[-0.55,0.04],[-0.35,-0.02],[-0.15,0.05],
[0.1,0.03],[0.3,-0.04],[0.5,0.08],[0.7,0],[0.9,-0.07],[1.1,0.05],[1.3,0.02],[1.5,-0.02],[1.7,0.1],[1.9,-0.05],
[2.1,0.04],[2.3,0.01],[2.5,-0.08],[2.7,0.07],[2.9,0.02],[3.1,-0.03],[3.3,0.09],[3.5,0],[3.7,-0.05],[3.9,0.05],
[4.1,0.03],[4.3,-0.09],[4.5,0.06],[4.7,0.01],[4.9,-0.02],[5.1,0.09],[5.3,-0.06],[5.5,0.04],[5.7,0],[5.9,0.07],
[6.1,-0.04],[6.3,0.03],[6.5,0.1],[6.7,-0.07],[6.9,0.02],[7.1,0.05],[7.3,-0.02],[7.5,0.08],[7.7,-0.05],[7.9,0.01],
[8.1,0.06],[8.3,-0.08],[8.5,0.03],[8.7,0.09],[8.9,-0.03],[9.1,0.04],[9.3,0],[9.5,-0.06],[9.7,0.07],[9.9,0.02],
[1,0],[3.6,0.02],[6,0.01],[8.4,0],
[0.05,0],[0.25,0.06],[0.45,-0.03],[0.65,0.03],[0.85,0],[1.05,-0.06],[1.25,0.07],[1.45,0.01],[1.65,-0.03],[1.85,0.05],
[2.05,0.02],[2.25,-0.05],[2.45,0.04],[2.65,-0.01],[2.85,0.06],[3.05,0],[3.25,-0.04],[3.45,0.03],[3.65,0.07],[3.85,-0.02],
[4.05,0.01],[4.25,0.05],[4.45,-0.05],[4.65,0.02],[4.85,0.06],[5.05,-0.02],[5.25,0.03],[5.45,-0.06],[5.65,0.05],[5.85,0.01],
[6.05,-0.03],[6.25,0.06],[6.45,0],[6.65,0.03],[6.85,-0.05],[7.05,0.02],[7.25,0.06],[7.45,-0.02],[7.65,0.01],[7.85,0.05],
[8.05,-0.04],[8.25,0.03],[8.45,-0.01],[8.65,0.06],[8.85,-0.06],[9.05,0.02],[9.25,0.05],[9.45,-0.02],[9.65,0],[9.85,-0.05],
[10.1,0.02],[10.3,-0.06],[10.5,0.09],[10.9,0.04],[11.1,-0.02],[11.5,-0.09],[11.7,0.01],[11.9,0.06],[12.3,0.03],[12.5,-0.04],
[12.9,-0.08],[13.1,0],[13.3,0.05],[13.7,0.08],[13.9,-0.03],[14.5,0.02],[14.7,-0.06],[14.9,0.07],[15.3,0],[15.7,-0.05],
[15.9,0.04],[16.3,0.06],[16.5,-0.09],[16.7,0.01],[17.1,-0.03],[17.3,0.08],[17.7,0.03],[17.9,-0.07],[18.3,-0.01],[18.7,0.05],
[18.9,0],[19.3,0.09],[19.5,-0.04],[19.7,0.02],[20.3,-0.06],[20.5,0.04],[20.9,0.07],[21.1,-0.02],[21.7,0.01],[21.9,-0.08],
[22.1,0.06],[22.5,0.03],[22.7,-0.04],[23.3,0],[23.5,-0.06],[23.7,0.08],[24.1,0.02],[24.3,-0.09],[24.7,-0.03],[24.9,0.05],
[25.3,0.07],[25.5,-0.07],[25.7,0.01],[26.3,-0.04],[26.5,0.03],[26.9,0.06],[27.1,-0.01],[27.3,0.09],[27.7,0],[27.9,-0.07],
[28.1,0.04],[28.5,0.08],[28.7,-0.02],[28.9,0.02],[29.1,-0.09],[29.3,0.05],[29.5,-0.05],
[10.2,-0.02],[10.8,0.05],[11.4,-0.05],[12,0.02],[12.6,-0.1],[13.2,0.07],[13.8,-0.06],[14.4,0.04],[15,-0.1],[15.6,0.06],
[16.2,-0.02],[16.8,-0.12],[17.4,0.04],[18,-0.09],[18.6,0.06],[19.2,-0.05],[19.8,0.04],[20.4,-0.13],[21,0.03],[21.6,-0.09],
[22.2,0.08],[22.8,-0.08],[23.4,0.04],[24,-0.11],[24.6,-0.02],[25.2,0.04],[25.8,-0.09],[26.4,0.07],[27,-0.12],[27.6,0.05],
[28.2,-0.05],[28.8,0.06],[29.4,-0.12],
[10.05,-0.03],[10.35,0.05],[10.6,-0.09],[10.85,0],[11.15,0.07],[11.4,-0.05],[11.65,0.03],[11.95,-0.11],[12.2,0.06],[12.45,-0.02],
[12.75,0.09],[13,-0.06],[13.25,0.02],[13.55,-0.1],[13.8,0.04],[14.05,-0.03],[14.35,0.08],[14.6,-0.07],[14.85,0.01],[15.15,-0.12],
[15.4,0.05],[15.65,-0.02],[15.95,0.1],[16.2,-0.08],[16.45,0.03],[16.75,-0.05],[17,0.07],[17.25,-0.11],[17.55,0],[17.8,-0.04],
[18.05,0.08],[18.35,-0.07],[18.6,0.02],[18.85,-0.13],[19.15,0.05],[19.4,-0.02],[19.65,0.09],[19.95,-0.06],[20.2,0.01],[20.45,-0.1],
[20.75,0.06],[21,-0.03],[21.25,0.11],[21.55,-0.08],[21.8,0.03],[22.05,-0.05],[22.35,0.07],[22.6,-0.12],[22.85,0.01],[23.15,-0.04],
[23.4,0.09],[23.65,-0.07],[23.95,0.03],[24.2,-0.1],[24.45,0.05],[24.75,-0.02],[25,0.08],[25.25,-0.14],[25.55,0.02],[25.8,-0.05],
[26.05,0.09],[26.35,-0.08],[26.6,0],[26.85,-0.11],[27.15,0.06],[27.4,-0.03],[27.65,0.1],[27.95,-0.09],[28.2,0.02],[28.45,-0.06],
[28.75,0.08],[29,-0.02],[29.25,0.04],[29.55,-0.1],[29.8,0.03]
];

let svg = d3.select("#chart");
let W = 1450, H = 1112;
let plot = { left: 180, top: 63, right: 1428, bottom: 995 };

let x = d3.scaleLinear().domain(xLimits).range([plot.left, plot.right]);
let y = d3.scaleLinear().domain(yLimits).range([plot.bottom, plot.top]);

let defs = svg.append("defs");
let bg = defs.append("linearGradient").attr("id", "bg")
	.attr("x1", "0").attr("y1", "1").attr("x2", "0.45").attr("y2", "0");
bg.append("stop").attr("offset", "0").attr("stop-color", "#5e5f72");
bg.append("stop").attr("offset", "0.5").attr("stop-color", "#3c3d55");
bg.append("stop").attr("offset", "1").attr("stop-color", "#282a3e");
defs.append("clipPath").attr("id", "clip")
	.append("rect")
	.attr("x", plot.left).attr("y", plot.top)
	.attr("width", plot.right - plot.left).attr("height", plot.bottom - plot.top);

// slide background and the white page
svg.append("rect").attr("width", W).attr("height", H).attr("fill", "url(#bg)");
svg.append("path")
	.attr("d", "M27,23 C140,17 330,13 520,11 L1450,8 L1450,1112 L15,1112 L21,300 L27,86 Z")
	.attr("fill", "#ffffff");
svg.append("path")
	.attr("d", "M26,88 L21,300 L15,1112")
	.attr("fill", "none").attr("stroke", "#d9d9e0").attr("stroke-width", 1.5);

// axes background
svg.append("rect")
	.attr("x", plot.left).attr("y", plot.top)
	.attr("width", plot.right - plot.left).attr("height", plot.bottom - plot.top)
	.attr("fill", "#fdfdf6");

let fmt = (d) => (d < 0 ? "\u2212" + Math.abs(d) : String(d));

let gx = svg.append("g")
	.attr("transform", "translate(0," + plot.bottom + ")")
	.call(d3.axisBottom(x).tickValues(xTicks).tickSize(12).tickPadding(14).tickFormat(fmt));
let gy = svg.append("g")
	.attr("transform", "translate(" + plot.left + ",0)")
	.call(d3.axisLeft(y).tickValues(yTicks).tickSize(12).tickPadding(11).tickFormat(fmt));
[gx, gy].forEach((g) => {
	g.select(".domain").remove();
	g.selectAll(".tick line").attr("stroke", "#333").attr("stroke-width", 2.4);
	g.selectAll(".tick text")
		.attr("fill", "#222")
		.style("font-family", "'DejaVu Sans', sans-serif")
		.style("font-size", "34px");
});

let pts = svg.append("g").attr("clip-path", "url(#clip)");

// zero line
pts.append("line")
	.attr("x1", x(xLimits[0])).attr("x2", x(xLimits[1]))
	.attr("y1", y(0)).attr("y2", y(0))
	.attr("stroke", "#111").attr("stroke-width", 3);

pts.selectAll("circle.unc")
	.data(uncorrected)
	.enter()
	.append("circle")
	.attr("class", "unc")
	.attr("cx", (d) => x(d[0]))
	.attr("cy", (d) => y(d[1]))
	.attr("r", 4)
	.attr("fill", "#8a8a8a");

pts.selectAll("circle.cor")
	.data(corrected.concat(correctedCore))
	.enter()
	.append("circle")
	.attr("class", "cor")
	.attr("cx", (d) => x(d[0]))
	.attr("cy", (d) => y(d[1]))
	.attr("r", 4)
	.attr("fill", "#121212");

// dashed limits
let step = d3.line().x((d) => x(d[0])).y((d) => y(d[1])).curve(d3.curveStepAfter);
[upperLimit, lowerLimit].forEach((lim) => {
	pts.append("path")
		.attr("d", step(lim))
		.attr("fill", "none")
		.attr("stroke", "#141414")
		.attr("stroke-width", 5)
		.attr("stroke-dasharray", "28,9");
});

// frame
svg.append("rect")
	.attr("x", plot.left).attr("y", plot.top)
	.attr("width", plot.right - plot.left).attr("height", plot.bottom - plot.top)
	.attr("fill", "none").attr("stroke", "#3a3a3a").attr("stroke-width", 2.6);

// axis labels
svg.append("text")
	.attr("x", (plot.left + plot.right) / 2).attr("y", 1092)
	.attr("text-anchor", "middle")
	.attr("fill", "#222")
	.style("font-family", "'DejaVu Sans', sans-serif").style("font-size", "34px")
	.text(xLabel);
svg.append("text")
	.attr("transform", "translate(94," + (plot.top + plot.bottom) / 2 + ") rotate(-90)")
	.attr("text-anchor", "middle")
	.attr("fill", "#222")
	.style("font-family", "'DejaVu Sans', sans-serif").style("font-size", "34px")
	.text(yLabel);

// legend
let lg = svg.append("g");
lg.append("rect")
	.attr("x", 1071).attr("y", 82).attr("width", 341).attr("height", 111)
	.attr("rx", 7)
	.attr("fill", "#fefefb").attr("stroke", "#cfcfcf").attr("stroke-width", 2);
let legendColors = ["#8a8a8a", "#121212"];
seriesNames.forEach((name, i) => {
	lg.append("circle").attr("cx", 1119).attr("cy", 110 + i * 50).attr("r", 3).attr("fill", legendColors[i]);
	lg.append("text")
		.attr("x", 1183).attr("y", 121 + i * 51)
		.attr("fill", "#222")
		.style("font-family", "'DejaVu Sans', sans-serif").style("font-size", "34px")
		.text(name);
});

// I -> V annotation
let ann = svg.append("g").style("font-family", "'Liberation Serif', 'DejaVu Serif', serif").attr("fill", "#000");
ann.append("text").attr("x", 240).attr("y", 915).style("font-size", "100px").style("font-style", "italic").text("I");
ann.append("text").attr("x", 366).attr("y", 916).attr("text-anchor", "middle").style("font-size", "145px").text("\u2192");
ann.append("text").attr("x", 440).attr("y", 915).style("font-size", "100px").style("font-style", "italic").text("V");
</script>
</body>
</html>
